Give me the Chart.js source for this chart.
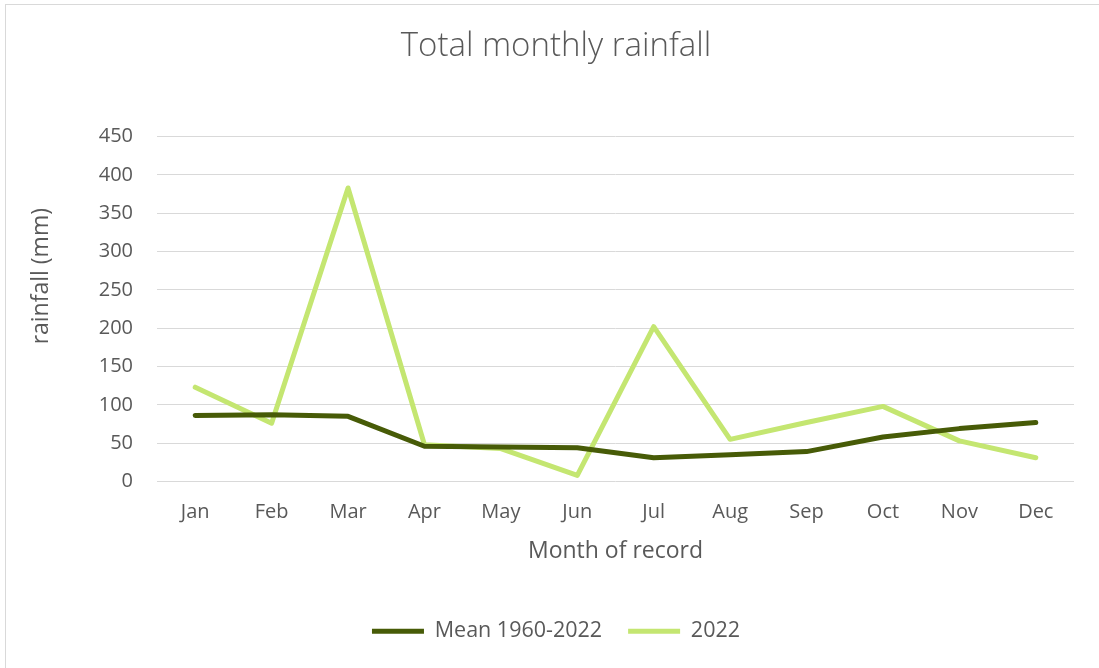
<!DOCTYPE html>
<html>
<head>
<meta charset="utf-8">
<title>Total monthly rainfall</title>
<script src="https://cdn.jsdelivr.net/npm/chart.js@4"></script>
<style>
  html, body { margin: 0; padding: 0; background: #fff; overflow: hidden; }
  #frame {
    position: absolute; left: 5px; top: 4px; width: 1200px; height: 800px;
    border-left: 1px solid #d9d9d9; border-top: 1px solid #d9d9d9;
  }
  #wrap { position: absolute; left: 0; top: 0; width: 1099px; height: 668px; }
</style>
</head>
<body>
<div id="frame"></div>
<div id="wrap"><canvas id="rain-chart" width="1099" height="668"></canvas></div>
<script>
const months = ["Jan", "Feb", "Mar", "Apr", "May", "Jun", "Jul", "Aug", "Sep", "Oct", "Nov", "Dec"];
const meanRain = [86, 87, 85, 46, 45, 44, 31, 35, 39, 58, 69, 77];
const rain2022 = [123, 76, 383, 48, 43, 8, 202, 55, 77, 98, 53, 31];

const textColor = "#595959";
const fontFamily = "'Open Sans', 'Noto Sans', sans-serif";

const ctx = document.getElementById("rain-chart").getContext("2d");

new Chart(ctx, {
  type: "line",
  data: {
    labels: months,
    datasets: [
      {
        label: "Mean 1960-2022",
        data: meanRain,
        borderColor: "#475b07",
        backgroundColor: "#475b07",
        borderWidth: 5,
        borderCapStyle: "round",
        borderJoinStyle: "round",
        pointRadius: 0,
        tension: 0,
      },
      {
        label: "2022",
        data: rain2022,
        borderColor: "#c4e671",
        backgroundColor: "#c4e671",
        borderWidth: 5,
        borderCapStyle: "round",
        borderJoinStyle: "round",
        pointRadius: 0,
        tension: 0,
      },
    ],
  },
  options: {
    responsive: false,
    animation: false,
    // left padding chosen so the title centres where the original does
    layout: { padding: { left: 38, right: 25, top: 0, bottom: 16 } },
    plugins: {
      title: {
        display: true,
        text: "Total monthly rainfall",
        color: textColor,
        font: { family: fontFamily, size: 33, weight: "300" },
        padding: { top: 27, bottom: 70 },
      },
      legend: {
        position: "bottom",
        labels: {
          color: textColor,
          font: { family: fontFamily, size: 21.5 },
          usePointStyle: true,
          pointStyle: "line",
          pointStyleWidth: 52,
          padding: 26,
        },
      },
      tooltip: { enabled: false },
    },
    scales: {
      x: {
        offset: true,
        grid: { display: false, drawTicks: false },
        border: { display: false },
        ticks: {
          color: textColor,
          font: { family: fontFamily, size: 20 },
          padding: 19,
          maxRotation: 0,
        },
        title: {
          display: true,
          text: "Month of record",
          color: textColor,
          font: { family: fontFamily, size: 23 },
          padding: { top: 0, bottom: 29 },
        },
        afterFit: (scale) => {
          scale.height = 113;
        },
      },
      y: {
        min: 0,
        max: 450,
        grid: { color: "#d9d9d9", lineWidth: 1, drawTicks: false },
        border: { display: false },
        ticks: {
          stepSize: 50,
          color: textColor,
          font: { family: fontFamily, size: 20 },
          padding: 24,
        },
        title: {
          display: true,
          // leading spaces lift the title a little, as in the original
          text: "           rainfall (mm)",
          color: textColor,
          font: { family: fontFamily, size: 23 },
          padding: { top: -10, bottom: 0 },
        },
        afterFit: (scale) => {
          scale.width = 119;
        },
      },
    },
  },
});
</script>
</body>
</html>
